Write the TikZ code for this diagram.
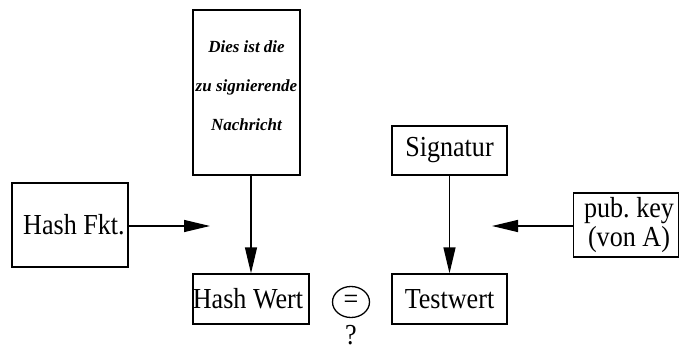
\documentclass[tikz,border=0pt]{standalone}
\usepackage{fontspec}
\setmainfont{Liberation Serif}
\newfontfamily\lblfont[FakeStretch=0.9]{Liberation Serif}
\usetikzlibrary{arrows.meta,shapes.geometric}
\begin{document}
\begin{tikzpicture}[x=1pt,y=-1pt,
  lbl/.style={font=\lblfont\fontsize{29}{29}\selectfont},
  box/.style={draw,line width=1.3pt,rectangle,inner sep=0pt,align=center,lbl},
  conn/.style={line width=1.3pt,-{Triangle[length=26pt,width=12pt]}}]
\useasboundingbox (0,0) rectangle (679,350);

% message document
\node[box,minimum width=107,minimum height=165] (msg) at (246.5,92.5) {};
\node[inner sep=0pt,align=center,
  font=\fontsize{17}{39}\selectfont\bfseries\itshape] (msgtxt) at (246.5,86)
  {Dies ist die\\zu signierende\\Nachricht};

% left branch
\node[box,minimum width=116,minimum height=84] (hf) at (70,225) {\hspace*{8pt}Hash Fkt.};
\node[box,minimum width=116,minimum height=50] (hw) at (251,299) {Hash Wert\hspace*{6pt}};
\coordinate (hfin) at (210,226);

% right branch
\node[box,minimum width=115,minimum height=49] (sig) at (449.5,150.5) {Signatur};
\node[box,minimum width=115,minimum height=50] (tw) at (449.5,299) {Testwert};
\node[box,minimum width=105,minimum height=64] (pk) at (626,225)
  {\hspace*{6pt}pub.\ key\\\hspace*{6pt}(von A)};
\coordinate (pkin) at (492,226);

% comparison
\node[draw,ellipse,line width=1.3pt,minimum width=37,minimum height=31,inner sep=0pt,
  lbl] (eq) at (351,302) {=};
\node[lbl,inner sep=0pt] (q) at (351,335) {?};

% connectors
\draw[conn] (hf.east |- hfin) -- (hfin);
\draw[conn] (msg.south -| hw.north) -- (hw.north);
\draw[conn] (sig.south) -- (tw.north);
\draw[conn] (pk.west |- pkin) -- (pkin);
\end{tikzpicture}
\end{document}
